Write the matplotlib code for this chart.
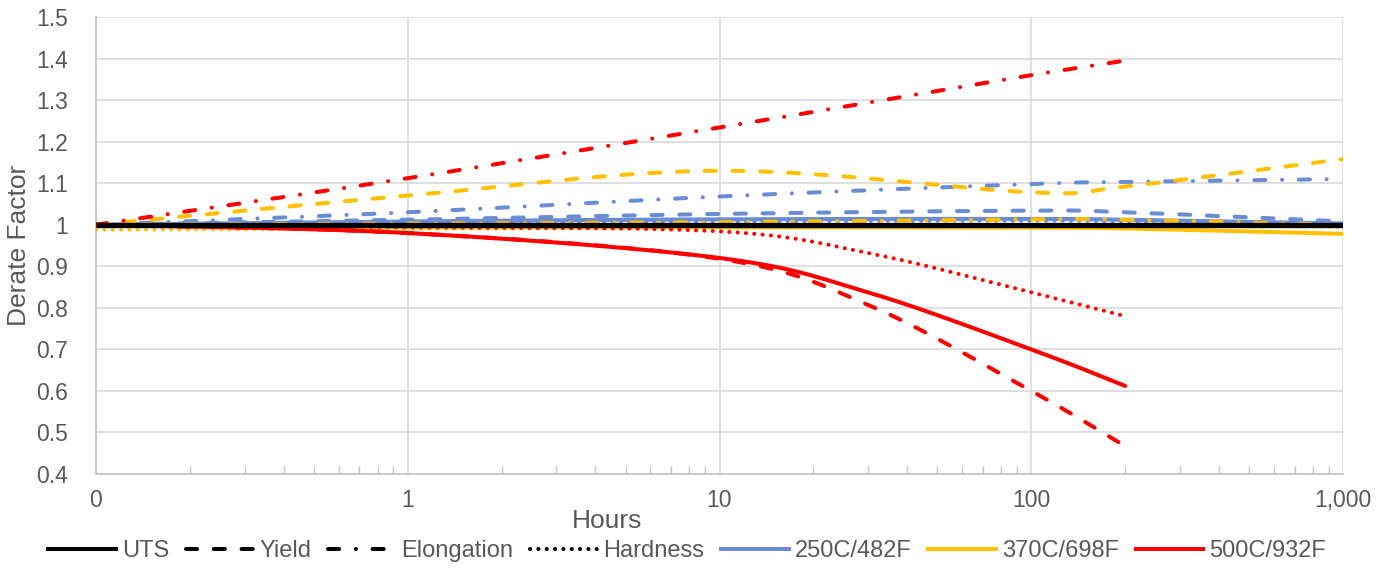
import numpy as np
import matplotlib
matplotlib.use("Agg")
import matplotlib.pyplot as plt
from matplotlib.lines import Line2D
from matplotlib.ticker import FixedLocator, LogLocator, NullFormatter

plt.rcParams['font.family'] = ['Liberation Sans', 'DejaVu Sans']
plt.rcParams['lines.scale_dashes'] = False

# (hours on log axis, derate factor)
hours = [0.1, 1, 10, 100, 200, 1000]
hours_500 = [0.1, 1, 10, 30, 100, 200]

uts_250 = [1.0, 1.008, 1.013, 1.014, 1.012, 1.003]
yield_250 = [1.0, 1.012, 1.026, 1.034, 1.030, 1.008]
elong_250 = [1.0, 1.030, 1.068, 1.098, 1.103, 1.110]
hard_250 = [1.0, 1.004, 1.008, 1.010, 1.008, 1.002]

uts_370 = [1.0, 0.994, 0.994, 0.993, 0.991, 0.978]
yield_370 = [1.0, 1.070, 1.130, 1.078, 1.092, 1.158]
elong_370 = [1.0, 1.003, 1.006, 1.013, 1.012, 1.0]
hard_370 = [0.988, 0.990, 0.993, 0.996, 0.997, 0.995]

uts_500 = [1.0, 0.980, 0.920, 0.837, 0.700, 0.612]
yield_500 = [1.0, 0.980, 0.918, 0.807, 0.600, 0.467]
elong_500 = [1.0, 1.112, 1.234, 1.294, 1.360, 1.395]
hard_500 = [1.0, 0.994, 0.984, 0.932, 0.837, 0.780]

ref_hours = [0.1, 1000]
ref_vals = [1.0, 1.0]

prop_names = ['UTS', 'Yield', 'Elongation', 'Hardness']
temp_names = ['250C/482F', '370C/698F', '500C/932F']
x_ticks = [0.1, 1, 10, 100, 1000]
x_tick_labels = ['0', '1', '10', '100', '1,000']
y_ticks = [0.4, 0.5, 0.6, 0.7, 0.8, 0.9, 1.0, 1.1, 1.2, 1.3, 1.4, 1.5]

BLUE = '#6a8cd5'
YELLOW = '#ffc000'
RED = '#ff0000'
GREY = '#595959'
LW = 2.9

styles = {
    'UTS': '-',
    'Yield': (0, (8, 12)),
    'Elongation': (0, (8, 12, 0.1, 12)),
    'Hardness': (0, (0.1, 5.9)),
}


def smooth(xs, ys, n=60):
    # excel-like smoothed line: bezier through nodes in (log x, y)
    pts = np.column_stack([np.log10(xs), ys])
    segs = []
    for i in range(len(pts) - 1):
        p0 = pts[i - 1] if i > 0 else pts[i]
        p1 = pts[i]
        p2 = pts[i + 1]
        p3 = pts[i + 2] if i + 2 < len(pts) else pts[i + 1]
        c1 = p1 + (p2 - p0) / 6
        c2 = p2 - (p3 - p1) / 6
        t = np.linspace(0, 1, n)[:, None]
        seg = (1 - t) ** 3 * p1 + 3 * (1 - t) ** 2 * t * c1 + 3 * (1 - t) * t ** 2 * c2 + t ** 3 * p2
        segs.append(seg if i == 0 else seg[1:])
    xy = np.vstack(segs)
    return 10 ** xy[:, 0], xy[:, 1]


fig = plt.figure(figsize=(13.91, 5.69), dpi=100)
ax = fig.add_axes([96 / 1391, 1 - 474 / 569, (1343 - 96) / 1391, (474 - 17) / 569])

groups = [
    (hours, [uts_250, yield_250, elong_250, hard_250], BLUE),
    (hours, [uts_370, yield_370, elong_370, hard_370], YELLOW),
    (hours_500, [uts_500, yield_500, elong_500, hard_500], RED),
]
z = 3
for hrs, series, col in groups:
    for name, vals in zip(prop_names, series):
        sx, sy = smooth(hrs, vals)
        ax.plot(sx, sy, color=col, lw=LW, linestyle=styles[name],
                dash_capstyle='round', solid_capstyle='round', zorder=z)
        z += 0.1

ax.plot(ref_hours, ref_vals, color='black', lw=3.8, solid_capstyle='butt', zorder=5)

ax.set_xscale('log')
ax.set_xlim(0.1, 1000)
ax.set_ylim(0.4, 1.5)
ax.xaxis.set_major_locator(FixedLocator(x_ticks))
ax.set_xticklabels(x_tick_labels)
ax.xaxis.set_minor_locator(LogLocator(base=10, subs=np.arange(2, 10)))
ax.xaxis.set_minor_formatter(NullFormatter())
ax.set_yticks(y_ticks)
ax.set_yticklabels([f"{v:g}" for v in y_ticks])

ax.grid(True, which='major', color='#d9d9d9', lw=1.2, zorder=0)
ax.set_axisbelow(True)
for s in ['top', 'right']:
    ax.spines[s].set_visible(False)
for s in ['left', 'bottom']:
    ax.spines[s].set_color('#c8c8c8')
    ax.spines[s].set_linewidth(1.4)

ax.tick_params(axis='x', which='major', length=0, pad=11, labelsize=16.5, labelcolor=GREY)
ax.tick_params(axis='x', which='minor', direction='in', length=6, width=1, color='#bfbfbf')
ax.tick_params(axis='y', which='major', length=0, pad=20, labelsize=16.5, labelcolor=GREY)

ax.set_xlabel('Hours', fontsize=19, color=GREY)
ax.xaxis.label.set_va('center')
ax.xaxis.set_label_coords((607 - 96) / 1247, (474 - 521) / 457)
ax.set_ylabel('Derate Factor', fontsize=19, color=GREY)
ax.yaxis.label.set_va('center')
ax.yaxis.set_label_coords((19 - 96) / 1247, 0.5)

handles = [Line2D([], [], color='black', lw=LW, linestyle=styles[n], dash_capstyle='round')
           for n in prop_names]
handles += [Line2D([], [], color=c, lw=LW) for c in [BLUE, YELLOW, RED]]
labels = prop_names + temp_names
leg = fig.legend(handles, labels, loc='center', bbox_to_anchor=(687 / 1391, 1 - 551 / 569),
                 ncol=7, frameon=False, fontsize=17, handlelength=2.85, handletextpad=0.25,
                 columnspacing=0.72, borderpad=0, borderaxespad=0)
for t in leg.get_texts():
    t.set_color(GREY)

fig.savefig('out.png', dpi=100)
